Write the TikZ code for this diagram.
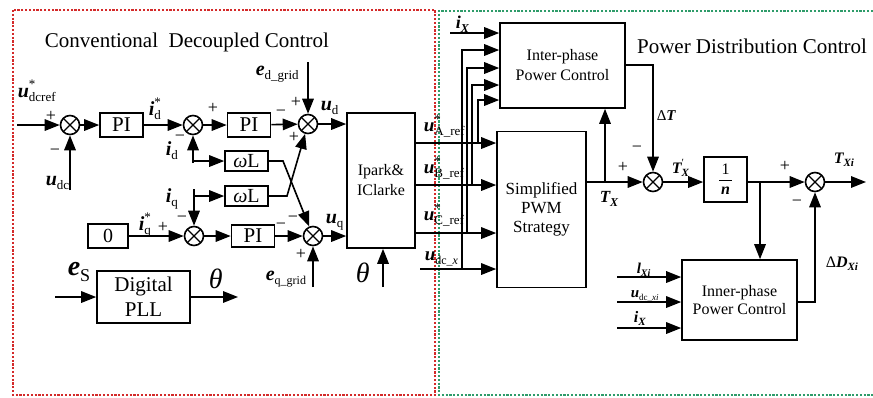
\documentclass[tikz,border=0pt]{standalone}
\usepackage{fontspec}
\setmainfont{Liberation Serif}
\usetikzlibrary{arrows.meta}
\definecolor{fred}{HTML}{D42A2A}
\definecolor{fgreen}{HTML}{2E9C6A}
\newcommand{\VL}[5]{{\fontsize{#4}{#4}\selectfont\bfseries\itshape #1}\makebox[0pt][l]{\raisebox{\dimexpr #4pt*42/100\relax}{\fontsize{#5}{#5}\selectfont #2}}\raisebox{-\dimexpr #5pt*35/100\relax}{\fontsize{#5}{#5}\selectfont #3}}
\newcommand{\BI}[1]{\textbf{\textit{#1}}}
\begin{document}
\begin{tikzpicture}[x=1pt,y=-1pt,line width=1.6pt,
  >={Triangle[length=15pt,width=11.5pt]},
  box/.style={draw,line width=1.6pt,inner sep=0pt,align=center},
  sumc/.style={draw,circle,line width=1.6pt,minimum size=19pt,inner sep=0pt,
    path picture={\draw[line width=1.3pt] (path picture bounding box.north west)--(path picture bounding box.south east)
      (path picture bounding box.north east)--(path picture bounding box.south west);}},
  lbl/.style={inner sep=0pt,anchor=base west},
  sgn/.style={inner sep=0pt,font=\fontsize{18}{18}\selectfont},
  frame/.style={line width=1.3pt,dash pattern=on 2.2pt off 1.6pt}]
\useasboundingbox (0,0) rectangle (873,397);
% frames
\draw[frame,fred] (13,10) rectangle (435,395);
\draw[frame,fgreen] (873,11) -- (439,11) -- (439,395) -- (873,395);
% titles
\node[inner sep=0pt,font=\fontsize{21}{21}\selectfont] (t1) at (187,42) {Conventional\ \ Decoupled Control};
\node[inner sep=0pt,font=\fontsize{21}{21}\selectfont] (t2) at (752,46) {Power Distribution Control};
% left blocks
\node[sumc] (s1) at (70,125) {};
\node[box,minimum width=43pt,minimum height=24pt,font=\fontsize{21}{21}\selectfont] (pi1) at (121.5,125) {PI};
\node[sumc] (s2) at (193,125) {};
\node[box,minimum width=43pt,minimum height=24pt,font=\fontsize{21}{21}\selectfont] (pi2) at (249,125) {PI};
\node[sumc] (s3) at (308,124) {};
\node[box,minimum width=68pt,minimum height=135pt,font=\fontsize{16}{20}\selectfont] (ip) at (381,180.5) {Ipark\&\\IClarke};
\node[box,minimum width=43pt,minimum height=20pt,font=\fontsize{20}{20}\selectfont] (wl1) at (246.5,161) {\textit{ω}L};
\node[box,minimum width=43pt,minimum height=20pt,font=\fontsize{20}{20}\selectfont] (wl2) at (246.5,196) {\textit{ω}L};
\node[box,minimum width=40pt,minimum height=24pt,font=\fontsize{20}{20}\selectfont] (z0) at (108,236) {0};
\node[sumc] (s4) at (194,236) {};
\node[box,minimum width=43pt,minimum height=22pt,font=\fontsize{21}{21}\selectfont] (pi3) at (253,236) {PI};
\node[sumc] (s5) at (313,236) {};
\node[box,minimum width=93pt,minimum height=52pt,font=\fontsize{21}{25}\selectfont] (pll) at (143.5,297) {Digital\\PLL};
% left free ends
\coordinate (cin) at (17,125);
\coordinate (cudc) at (70,190);
\coordinate (cid) at (193,163);
\coordinate (cidb) at (193,161);
\coordinate (ciq) at (194,189);
\coordinate (ciqb) at (194,196);
\coordinate (cx1) at (283,161);
\coordinate (cx2) at (287,196);
\coordinate (ced) at (308,62);
\coordinate (ceq) at (313,287);
\coordinate (cth) at (383,287);
\coordinate (cpin) at (55,297);
\coordinate (cpout) at (238,297);
% left connectors
\draw[->] (cin) -- (s1);
\draw[->] (s1) -- (pi1);
\draw[->] (pi1) -- (s2);
\draw[->] (s2) -- (pi2);
\draw[->] (pi2) -- (s3);
\draw[->] (s3) -- (s3 -| ip.west);
\draw[->] (cudc) -- (s1);
\draw[->] (cid) -- (s2);
\draw[->] (cidb) -- (wl1);
\draw[->] (ciq) -- (s4);
\draw[->] (ciqb) -- (wl2);
\draw[->] (wl1.east) -- (cx1) -- (s5);
\draw[->] (wl2.east) -- (cx2) -- (s3);
\draw[->] (z0) -- (s4);
\draw[->] (s4) -- (pi3);
\draw[->] (pi3) -- (s5);
\draw[->] (s5) -- (s5 -| ip.west);
\draw[->] (ced) -- (s3);
\draw[->] (ceq) -- (s5);
\draw[->] (cth) -- (cth |- ip.south);
\draw[->] (cpin) -- (pll);
\draw[->] (pll) -- (cpout);
% left labels
\node[lbl] (lu) at (17,97) {\VL{u}{*}{dcref}{20}{13}};
\node[lbl] (ludc) at (45,185) {\VL{u}{}{dc}{20}{13}};
\node[lbl] (lid1) at (148,115) {\VL{i}{*}{d}{20}{13}};
\node[lbl] (lid) at (165,155) {\VL{i}{}{d}{20}{13}};
\node[lbl] (liq) at (165,202) {\VL{i}{}{q}{20}{13}};
\node[lbl] (liq1) at (138,230) {\VL{i}{*}{q}{20}{13}};
\node[lbl] (led) at (255,75) {\VL{e}{}{d\_grid}{20}{13}};
\node[lbl] (lud) at (320,110) {\VL{u}{}{d}{20}{13}};
\node[lbl] (luq) at (325,223) {\VL{u}{}{q}{20}{13}};
\node[lbl] (leq) at (265,280) {\VL{e}{}{q\_grid}{20}{12}};
\node[lbl] (les) at (67,275) {\VL{e}{}{S}{28}{18}};
\node[lbl,font=\fontsize{28}{28}\selectfont\itshape] (lth1) at (208,288) {θ};
\node[lbl,font=\fontsize{28}{28}\selectfont\itshape] (lth2) at (355,282) {θ};
% signs
\node[sgn] (g1) at (51,116) {+};
\node[sgn] (g2) at (55,152) {−};
\node[sgn] (g3) at (213,108) {+};
\node[sgn] (g4) at (180,138) {−};
\node[sgn] (g5) at (296,102) {+};
\node[sgn] (g6) at (281,113) {−};
\node[sgn] (g7) at (294,137) {+};
\node[sgn] (g8) at (163,227) {+};
\node[sgn] (g9) at (182,219) {−};
\node[sgn] (g10) at (293,219) {−};
\node[sgn] (g11) at (281,226) {−};
\node[sgn] (g12) at (301,254) {+};
% right blocks
\node[box,minimum width=125pt,minimum height=85pt,font=\fontsize{16}{20}\selectfont] (inter) at (562.5,65.5) {Inter-phase\\Power Control};
\node[box,minimum width=89pt,minimum height=156pt,font=\fontsize{17}{19}\selectfont] (pwm) at (541.5,209.5) {Simplified\\PWM\\Strategy};
\node[sumc] (s6) at (653,182) {};
\node[box,minimum width=43pt,minimum height=45pt] (inv) at (725.5,179.5) {};
\node[inner sep=0pt,font=\fontsize{16}{16}\selectfont] (inv1) at (725.5,169) {1};
\node[inner sep=0pt,font=\fontsize{16}{16}\selectfont\bfseries\itshape] (invn) at (725.5,191) {n};
\draw[line width=0.7pt] (719,180.5) -- (732,180.5);
\node[sumc] (s7) at (815,182) {};
\node[box,minimum width=115pt,minimum height=80pt,font=\fontsize{16}{18}\selectfont] (inner) at (739.5,300) {Inner-phase\\Power Control};
% right free ends
\coordinate (ya) at (0,143);
\coordinate (yb) at (0,185);
\coordinate (yc) at (0,233);
\coordinate (cudx) at (420,269);
\coordinate (ka) at (478,143); \coordinate (kat) at (478,100);
\coordinate (kb) at (472,185); \coordinate (kbt) at (472,85);
\coordinate (kc) at (467,233); \coordinate (kct) at (467,68);
\coordinate (kd) at (462,269); \coordinate (kdt) at (462,50);
\coordinate (cix) at (450,33);
\coordinate (tb) at (605,182);
\coordinate (io) at (653,65);
\coordinate (br) at (760,182);
\coordinate (cout) at (866,182);
\coordinate (dd) at (815,302);
\coordinate (in1) at (617,277);
\coordinate (in2) at (617,302);
\coordinate (in3) at (617,328);
% right connectors
\draw[->] (ip.east |- ya) -- (pwm.west |- ya);
\draw[->] (ip.east |- yb) -- (pwm.west |- yb);
\draw[->] (ip.east |- yc) -- (pwm.west |- yc);
\draw[->] (cudx) -- (pwm.west |- cudx);
\draw[->] (ka) -- (kat) -- (kat -| inter.west);
\draw[->] (kb) -- (kbt) -- (kbt -| inter.west);
\draw[->] (kc) -- (kct) -- (kct -| inter.west);
\draw[->] (kd) -- (kdt) -- (kdt -| inter.west);
\draw[->] (cix) -- (cix -| inter.west);
\draw[->] (pwm.east |- s6) -- (s6);
\draw[->] (tb) -- (tb |- inter.south);
\draw[->] (io -| inter.east) -- (io) -- (s6);
\draw[->] (s6) -- (s6 -| inv.west);
\draw[->] (inv.east |- s7) -- (s7);
\draw[->] (s7) -- (cout);
\draw[->] (br) -- (br |- inner.north);
\draw[->] (dd -| inner.east) -- (dd) -- (s7);
\draw[->] (in1) -- (in1 -| inner.west);
\draw[->] (in2) -- (in2 -| inner.west);
\draw[->] (in3) -- (in3 -| inner.west);
% right labels
\node[lbl] (lua) at (423,131) {\VL{u}{*}{A\_ref}{19}{13}};
\node[lbl] (lub) at (423,173) {\VL{u}{*}{B\_ref}{19}{13}};
\node[lbl] (luc) at (423,220) {\VL{u}{*}{C\_ref}{19}{13}};
\node[lbl] (ludx) at (424,260) {\VL{u}{}{dc\_\textit{x}}{19}{12}};
\node[lbl] (lix) at (455,28) {\VL{i}{}{\BI{X}}{18}{12}};
\node[lbl] (ltx) at (599,202) {\VL{T}{}{\BI{X}}{17}{12}};
\node[lbl,font=\fontsize{15}{15}\selectfont] (ldt) at (656,120) {Δ\BI{T}};
\node[lbl] (ltx2) at (671,173) {\VL{T}{′}{\BI{X}}{16}{11}};
\node[lbl] (ltxi) at (833,163) {\VL{T}{}{\BI{Xi}}{16}{11}};
\node[lbl] (lddxi) at (825,267) {{\fontsize{16}{16}\selectfont Δ}\VL{D}{}{\BI{Xi}}{16}{11}};
\node[lbl] (llxi) at (636,273) {\VL{l}{}{\BI{Xi}}{15}{10}};
\node[lbl] (ludxi) at (630,297) {\VL{u}{}{dc\_\textit{xi}}{15}{9}};
\node[lbl] (lix2) at (633,322) {\VL{i}{}{\BI{X}}{16}{11}};
\node[sgn] (g13) at (623,167) {+};
\node[sgn] (g14) at (637,149) {−};
\node[sgn] (g15) at (785,166) {+};
\node[sgn] (g16) at (797,203) {−};
\end{tikzpicture}
\end{document}
